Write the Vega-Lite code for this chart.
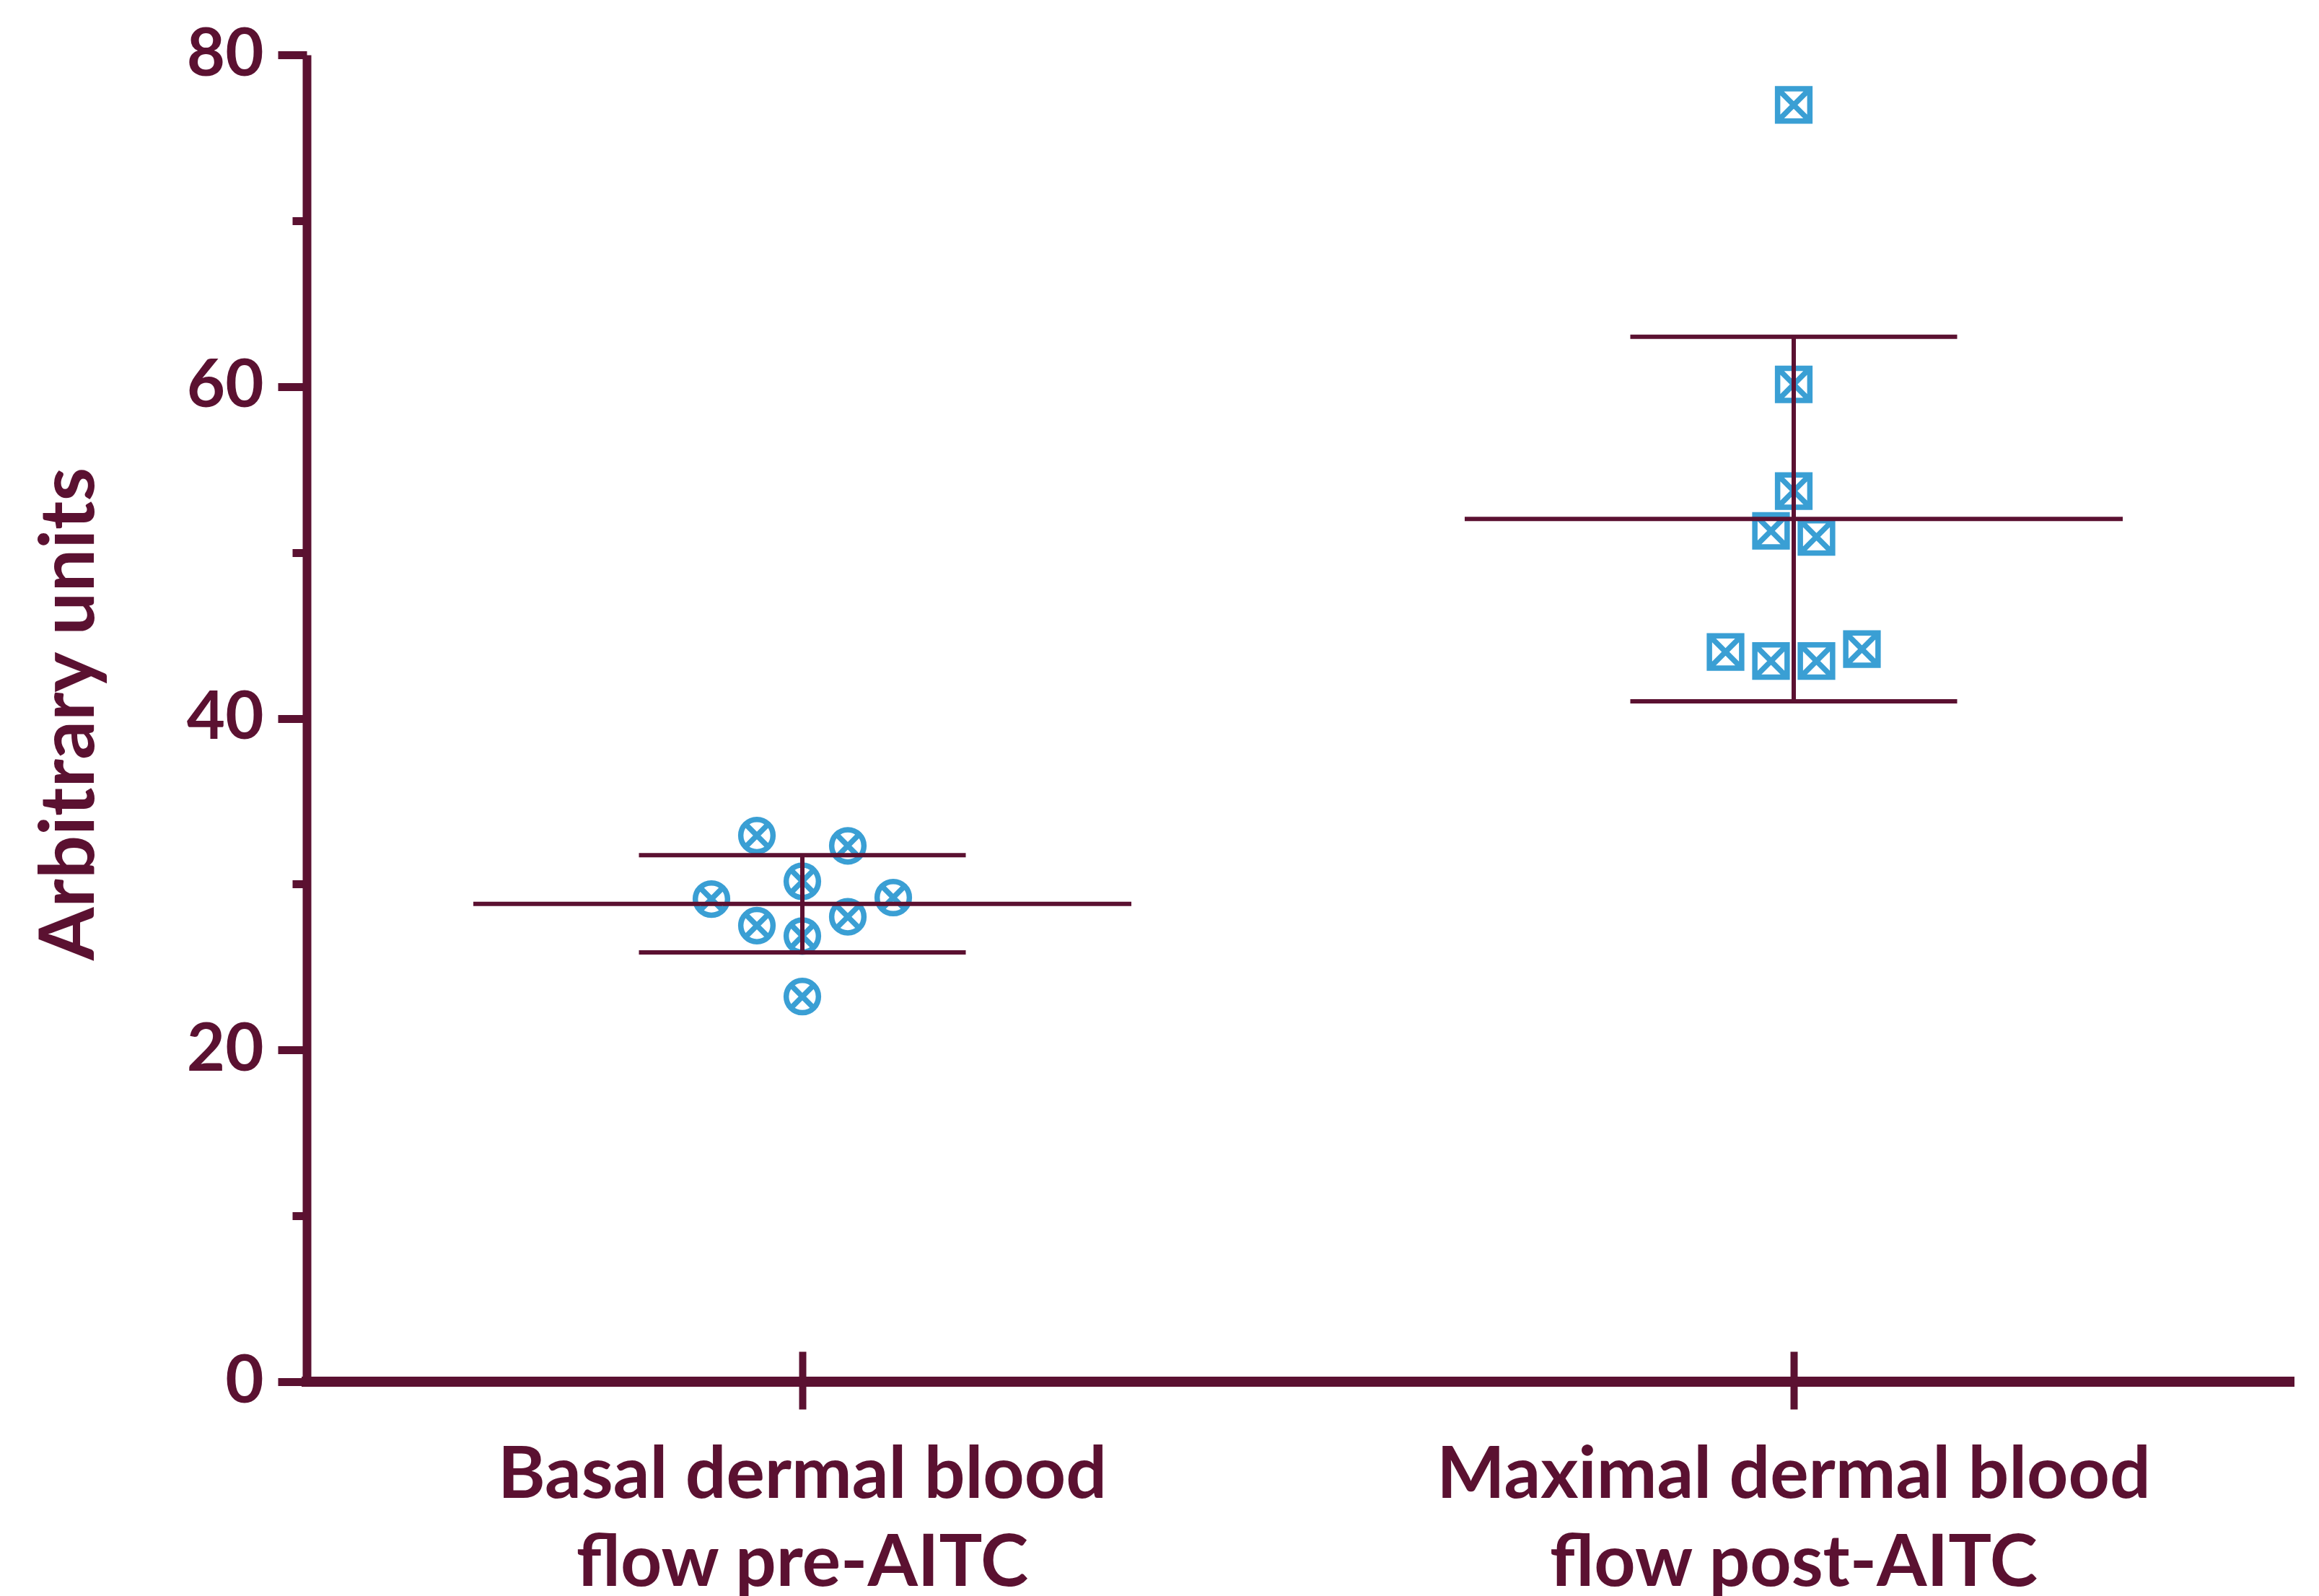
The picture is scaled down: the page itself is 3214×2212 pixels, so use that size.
{
  "$schema": "https://vega.github.io/schema/vega-lite/v6.json",
  "width": 2748,
  "height": 1839,
  "autosize": {"type": "none"},
  "padding": {"left": 425, "top": 76, "right": 41, "bottom": 297},
  "background": "white",
  "config": {"view": {"stroke": null}},
  "data": {
    "values": [
      {"group": "Basal dermal blood flow pre-AITC", "value": 32.93, "slot": -1},
      {"group": "Basal dermal blood flow pre-AITC", "value": 32.31, "slot": 1},
      {"group": "Basal dermal blood flow pre-AITC", "value": 30.17, "slot": 0},
      {"group": "Basal dermal blood flow pre-AITC", "value": 29.1, "slot": -2},
      {"group": "Basal dermal blood flow pre-AITC", "value": 29.19, "slot": 2},
      {"group": "Basal dermal blood flow pre-AITC", "value": 27.5, "slot": -1},
      {"group": "Basal dermal blood flow pre-AITC", "value": 28.03, "slot": 1},
      {"group": "Basal dermal blood flow pre-AITC", "value": 26.87, "slot": 0},
      {"group": "Basal dermal blood flow pre-AITC", "value": 23.22, "slot": 0},
      {"group": "Maximal dermal blood flow post-AITC", "value": 76.98, "slot": 0},
      {"group": "Maximal dermal blood flow post-AITC", "value": 60.13, "slot": 0},
      {"group": "Maximal dermal blood flow post-AITC", "value": 53.7, "slot": 0},
      {"group": "Maximal dermal blood flow post-AITC", "value": 51.3, "slot": -0.5},
      {"group": "Maximal dermal blood flow post-AITC", "value": 50.94, "slot": 0.5},
      {"group": "Maximal dermal blood flow post-AITC", "value": 44.0, "slot": -1.5},
      {"group": "Maximal dermal blood flow post-AITC", "value": 43.45, "slot": -0.5},
      {"group": "Maximal dermal blood flow post-AITC", "value": 43.45, "slot": 0.5},
      {"group": "Maximal dermal blood flow post-AITC", "value": 44.17, "slot": 1.5}
    ]
  },
  "layer": [
    {
      "mark": {"type": "point", "filled": false, "size": 2000, "strokeWidth": 7.5, "color": "#3a9fd4", "opacity": 1},
      "encoding": {
        "x": {
          "field": "group", "type": "nominal", "title": null,
          "scale": {"type": "band", "paddingInner": 0.8166, "paddingOuter": 0.4083},
          "axis": {
            "domain": false, "ticks": true, "tickSize": 80, "tickWidth": 10, "tickColor": "#5b1131",
            "offset": -42, "labelAngle": 0, "labelPadding": 43, "labelBaseline": "top",
            "labelFont": "Lato", "labelFontWeight": "bold", "labelFontSize": 100, "labelColor": "#5b1131",
            "labelLineHeight": 122, "labelLimit": 2000,
            "labelExpr": "[slice(datum.label, 0, lastindexof(datum.label, ' flow')), slice(datum.label, lastindexof(datum.label, ' flow') + 1)]"
          }
        },
        "xOffset": {
          "field": "slot", "type": "ordinal",
          "scale": {"type": "point", "padding": 0, "domain": [-2, -1.5, -1, -0.5, 0, 0.5, 1, 1.5, 2]}
        },
        "y": {
          "field": "value", "type": "quantitative", "title": "Arbitrary units",
          "scale": {"domain": [0, 80], "nice": false, "zero": true},
          "axis": {
            "values": [0, 10, 20, 30, 40, 50, 60, 70, 80],
            "labelExpr": "datum.value % 20 === 0 ? datum.label : ''",
            "grid": false,
            "domain": true, "domainWidth": 12, "domainColor": "#5b1131",
            "tickWidth": 11, "tickColor": "#5b1131",
            "tickSize": {"condition": {"test": "datum.value % 20 === 0", "value": 40}, "value": 20},
            "labelPadding": 20, "labelFont": "Lato", "labelFontWeight": "bold", "labelFontSize": 92, "labelColor": "#5b1131",
            "titleFont": "Lato", "titleFontWeight": "bold", "titleFontSize": 106, "titleColor": "#5b1131",
            "titleAngle": 270, "titleX": -296, "titleY": 913, "titleAlign": "center", "titleBaseline": "alphabetic"
          }
        },
        "shape": {
          "field": "group", "type": "nominal", "legend": null,
          "scale": {
            "domain": ["Basal dermal blood flow pre-AITC", "Maximal dermal blood flow post-AITC"],
            "range": [
              "M-1,0A1,1,0,1,1,1,0A1,1,0,1,1,-1,0ZM-0.707,-0.707L0.707,0.707M-0.707,0.707L0.707,-0.707",
              "M-1,-1L1,-1L1,1L-1,1ZM-1,-1L1,1M-1,1L1,-1"
            ]
          }
        }
      }
    },
    {
      "mark": {
        "type": "errorbar", "extent": "stdev", "color": "#5b1131",
        "rule": {"strokeWidth": 6, "opacity": 1},
        "ticks": {"size": 453, "thickness": 6, "opacity": 1}
      },
      "encoding": {
        "x": {"field": "group", "type": "nominal", "title": null},
        "y": {"field": "value", "type": "quantitative", "title": "Arbitrary units"}
      }
    },
    {
      "mark": {"type": "tick", "size": 912, "thickness": 6, "color": "#5b1131", "opacity": 1},
      "encoding": {
        "x": {"field": "group", "type": "nominal", "title": null},
        "y": {"aggregate": "mean", "field": "value", "type": "quantitative", "title": "Arbitrary units"}
      }
    },
    {
      "mark": {"type": "rule", "strokeWidth": 13, "color": "#5b1131", "strokeCap": "square"},
      "encoding": {"y": {"datum": 0}}
    }
  ]
}
